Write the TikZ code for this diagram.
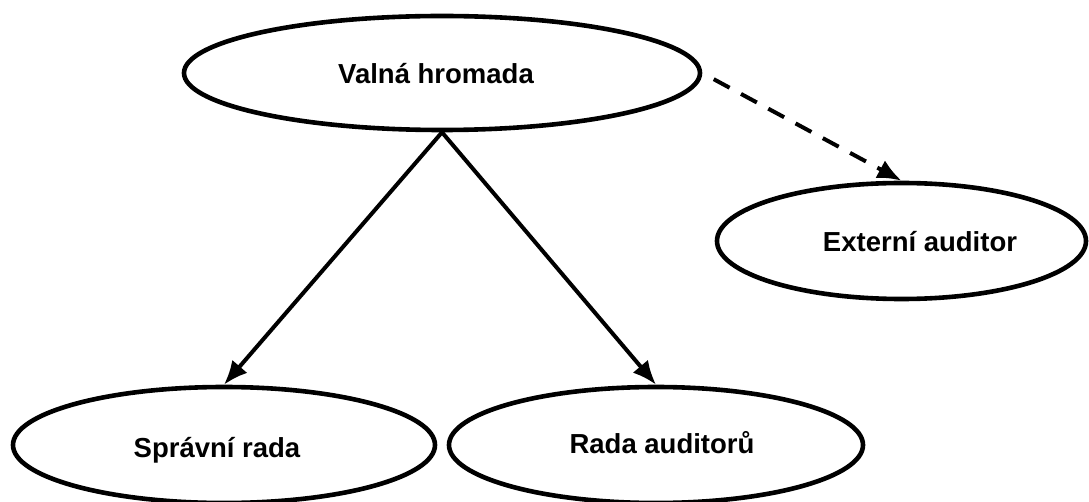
\documentclass[tikz,border=0pt]{standalone}
\usepackage{fontspec}
\setmainfont{Liberation Sans}
\usetikzlibrary{shapes.geometric,arrows.meta}
\tikzset{
  oval/.style={ellipse, draw=black, line width=4.6pt, inner sep=0pt, fill=white},
  lbl/.style={anchor=base, inner sep=0pt, font=\fontsize{27.5}{32}\selectfont\bfseries},
  link/.style={line width=4pt, -{Latex[length=24pt,width=20pt]}},
  dlink/.style={link, dash pattern=on 18pt off 13pt}
}
\begin{document}
\begin{tikzpicture}[x=1pt,y=-1pt]
\useasboundingbox (0,0) rectangle (1089,502);
\node[oval, minimum width=516pt, minimum height=114pt] (va) at (442,73) {};
\node[oval, minimum width=369pt, minimum height=116pt] (ea) at (901.5,241) {};
\node[oval, minimum width=422pt, minimum height=116pt] (sr) at (224,445) {};
\node[oval, minimum width=414pt, minimum height=116pt] (ra) at (656,445) {};
\node[lbl] (vat) at (436,84) {Valná hromada};
\node[lbl] (eat) at (920,252) {Externí auditor};
\node[lbl] (srt) at (217,457) {Správní rada};
\node[lbl] (rat) at (662,453) {Rada auditorů};
\draw[link] (va.south) -- (sr.north);
\draw[link] (va.south) -- (ra.north);
\draw[dlink, shorten <=13pt] (va.east) -- (ea.north);
\end{tikzpicture}
\end{document}
